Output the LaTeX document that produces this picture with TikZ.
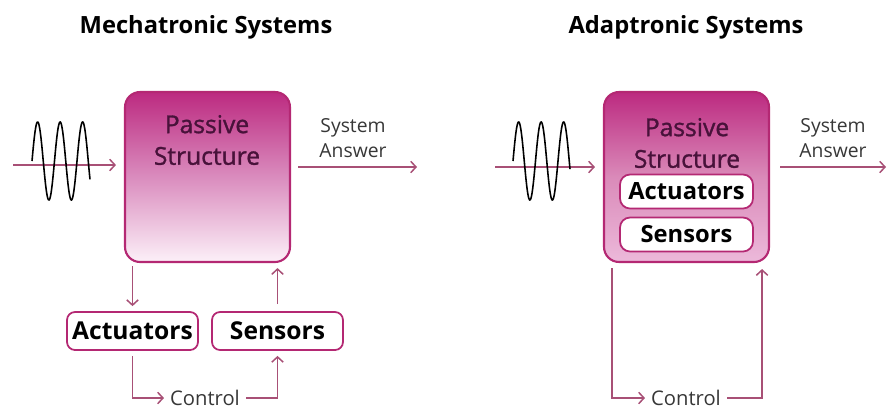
\documentclass[tikz,border=0pt]{standalone}
\usepackage{fontspec}
\setmainfont{Open Sans}
\newfontfamily\semifont[FakeBold=1.3]{Open Sans}
\usetikzlibrary{arrows.meta,positioning}

\definecolor{boxrim}{RGB}{180,40,115}
\definecolor{boxtop}{RGB}{188,42,128}
\definecolor{boxmid}{RGB}{218,140,190}
\definecolor{boxlow}{RGB}{252,240,248}
\definecolor{boxlowB}{RGB}{236,185,218}
\definecolor{flow}{RGB}{168,80,118}
\definecolor{plum}{RGB}{72,18,58}
\definecolor{answer}{RGB}{55,55,55}

\begin{document}
\begin{tikzpicture}[
    x=0.02cm, y=-0.02cm,
    passive/.style={rectangle, draw=boxrim, line width=1.2pt, rounded corners=0.3cm,
        minimum width=3.3cm, minimum height=3.4cm, top color=boxtop, bottom color=boxlow, middle color=boxmid},
    passiveB/.style={passive, bottom color=boxlowB, middle color=boxtop!55!white},
    smallbox/.style={rectangle, draw=boxrim, line width=1pt, rounded corners=0.16cm, fill=white,
        minimum width=2.62cm, minimum height=0.76cm, inner sep=0pt, font=\bfseries\fontsize{14}{16}\selectfont},
    innerbox/.style={smallbox, minimum width=2.66cm, minimum height=0.68cm, rounded corners=0.2cm,
        font=\bfseries\fontsize{13.5}{16}\selectfont},
    title/.style={font=\bfseries\fontsize{13.5}{15}\selectfont, anchor=base},
    structlabel/.style={align=center, text=plum, font=\semifont\fontsize{14}{18}\selectfont},
    answerlabel/.style={align=center, text=answer, font=\fontsize{11}{14}\selectfont},
    ctrl/.style={text=answer, font=\fontsize{11.5}{13}\selectfont},
    flowarrow/.style={draw=flow, line width=0.85pt, -{Straight Barb[length=3pt,width=6.5pt]}},
    flowline/.style={draw=flow, line width=0.85pt},
    wave/.style={draw=black, line width=0.9pt}
]
\useasboundingbox (0,0) rectangle (888,410);

% === MECHATRONIC SYSTEMS (left) ===
\node[title] (mtitle) at (206,33) {Mechatronic Systems};

% passive structure
\node[passive] (mpass) at (207.5,177) {};
\node[structlabel] (mpasstxt) at (207,140) {Passive\\Structure};

% excitation wave and input
\coordinate (min) at (13,165);
\draw[flowarrow, shorten >=0.16cm] (min) -- (min -| mpass.west);
\draw[wave] plot[domain=32:90, samples=120, smooth] (\x, {161 - 39*sin(16*(\x-32))});

% system answer
\node[answerlabel] (mans) at (353,138) {System\\Answer};
\coordinate (mout) at (417,167);
\draw[flowarrow, shorten <=0.14cm] (mout -| mpass.east) -- (mout);

% actuators and sensors outside
\node[smallbox] (mact) at (132.5,331) {Actuators};
\node[smallbox] (msens) at (277.5,331) {Sensors};
\draw[flowarrow, shorten <=0.06cm, shorten >=0.1cm] (mpass.south -| mact) -- (mact.north);
\draw[flowarrow, shorten <=0.14cm, shorten >=0.1cm] (msens.north) -- (mpass.south -| msens);

% control loop
\node[ctrl] (mctrl) at (205,398) {Control};
\draw[flowarrow, shorten <=0.1cm] (mact.south) |- (mctrl.west);
\draw[flowarrow, shorten >=0.1cm] (mctrl.east) -| (msens.south);

% === ADAPTRONIC SYSTEMS (right) ===
\node[title] (atitle) at (686,33) {Adaptronic Systems};

% passive structure with integrated actuators and sensors
\node[passiveB] (apass) at (686.5,177) {};
\node[structlabel] (apasstxt) at (687,143) {Passive\\Structure};
\node[innerbox] (aact) at (686.5,191.5) {Actuators};
\node[innerbox] (asens) at (686.5,234.5) {Sensors};

% excitation wave and input
\coordinate (ain) at (495,167);
\draw[flowarrow, shorten >=0.16cm] (ain) -- (ain -| apass.west);
\draw[wave] plot[domain=513:570, samples=120, smooth] (\x, {161 - 39*sin(16*(\x-513))});

% system answer
\node[answerlabel] (aans) at (833,138) {System\\Answer};
\coordinate (aout) at (886,167);
\draw[flowarrow, shorten <=0.2cm] (aout -| apass.east) -- (aout);

% control loop
\node[ctrl] (actrl) at (686,398) {Control};
\draw[flowarrow] ([xshift=0.18cm,yshift=-0.1cm]apass.south west) |- (actrl.west);
\draw[flowarrow] (actrl.east) -| ([xshift=-0.16cm,yshift=-0.12cm]apass.south east);

\end{tikzpicture}
\end{document}
